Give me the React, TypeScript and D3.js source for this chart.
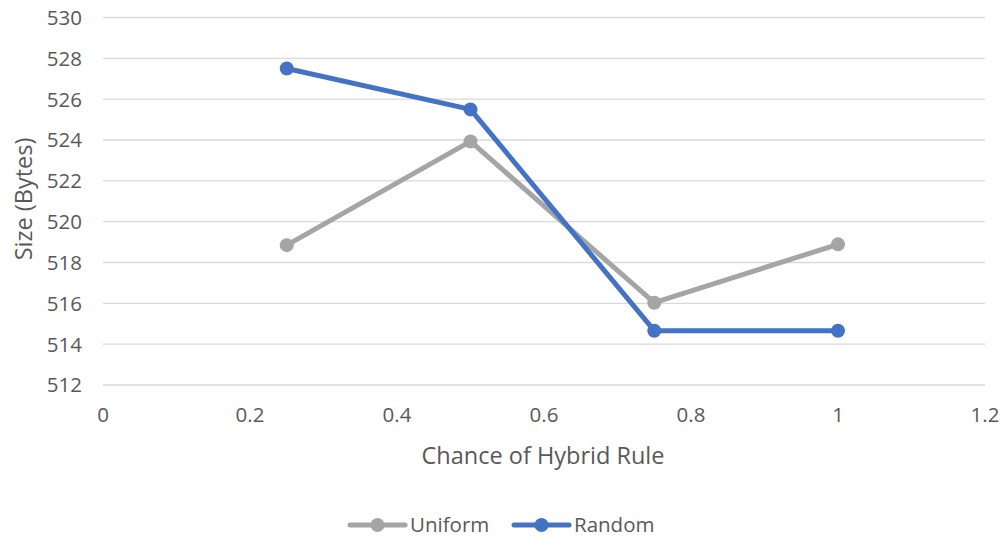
import React from "react";
import * as d3 from "d3";

const xValues = [0.25, 0.5, 0.75, 1];
const uniformValues = [518.85, 523.93, 516.03, 518.89];
const randomValues = [527.5, 525.5, 514.66, 514.66];
const xTicks = [0, 0.2, 0.4, 0.6, 0.8, 1, 1.2];
const yTicks = [512, 514, 516, 518, 520, 522, 524, 526, 528, 530];
const seriesNames = ["Uniform", "Random"];
const seriesColors = ["#A5A5A5", "#4472C4"];

export default function App() {
  const W = 1004, H = 540;
  const x = d3.scaleLinear().domain([0, 1.2]).range([103, 985]);
  const y = d3.scaleLinear().domain([512, 530]).range([385, 17.5]);
  const line = d3.line<number>().x((_, i) => x(xValues[i])).y((d) => y(d));
  const series = [uniformValues, randomValues];
  const font = "'Open Sans', sans-serif";
  const legendX = [350, 514];
  return (
    <svg width={W} height={H} style={{ position: "absolute", left: 0, top: 0, background: "#fff" }}>
      <rect width={W} height={H} fill="#fff" />
      {yTicks.map((t) => (
        <g key={t}>
          <line x1={x(0)} x2={x(1.2)} y1={y(t)} y2={y(t)} stroke="#D9D9D9" strokeWidth={1.3} />
          <text x={82} y={y(t)} dy="0.36em" textAnchor="end" fontFamily={font} fontSize={20.5} fill="#595959">{t}</text>
        </g>
      ))}
      {xTicks.map((t) => (
        <text key={t} x={x(t)} y={422} textAnchor="middle" fontFamily={font} fontSize={20.5} fill="#595959">{d3.format("")(+t.toFixed(1))}</text>
      ))}
      <text x={543} y={464} textAnchor="middle" fontFamily={font} fontSize={23.5} fill="#595959">Chance of Hybrid Rule</text>
      <text transform={`translate(32,199) rotate(-90)`} textAnchor="middle" fontFamily={font} fontSize={23.5} fill="#595959">Size (Bytes)</text>
      {series.map((s, si) => (
        <g key={si}>
          <path d={line(s) || ""} fill="none" stroke={seriesColors[si]} strokeWidth={5} strokeLinejoin="round" strokeLinecap="round" />
          {s.map((v, i) => (
            <circle key={i} cx={x(xValues[i])} cy={y(v)} r={7} fill={seriesColors[si]} />
          ))}
        </g>
      ))}
      {seriesNames.map((n, i) => (
        <g key={n}>
          <line x1={legendX[i]} x2={legendX[i] + 55} y1={525} y2={525} stroke={seriesColors[i]} strokeWidth={5} strokeLinecap="round" />
          <circle cx={legendX[i] + 27.5} cy={525} r={7} fill={seriesColors[i]} />
          <text x={legendX[i] + 60} y={525} dy="0.36em" fontFamily={font} fontSize={20.5} fill="#595959">{n}</text>
        </g>
      ))}
    </svg>
  );
}
